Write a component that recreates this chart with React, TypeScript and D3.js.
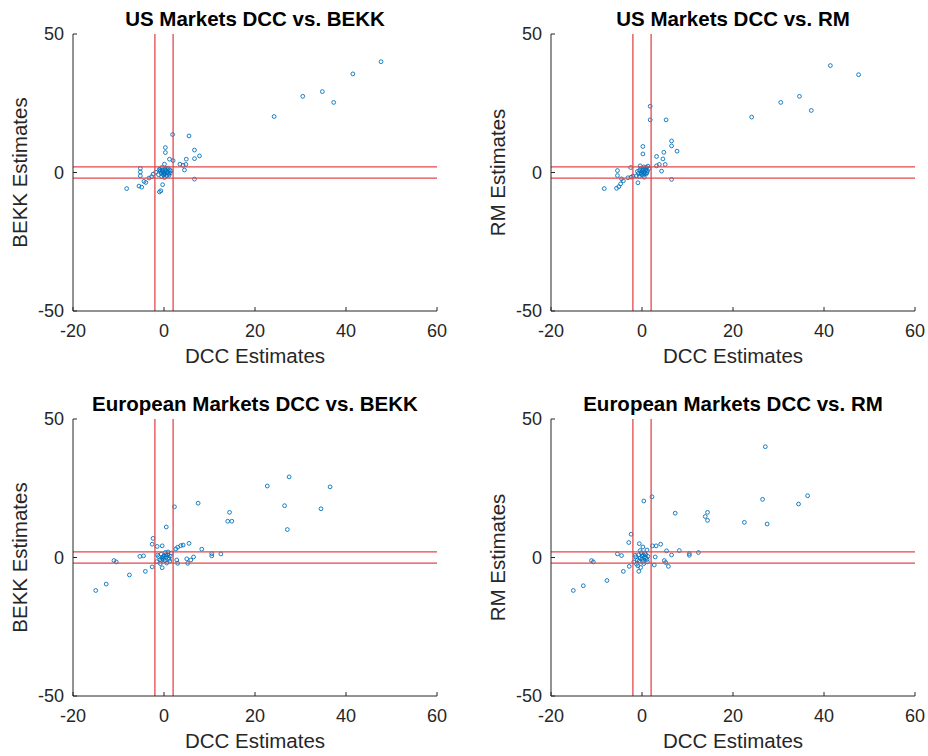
import React from "react";
import * as d3 from "d3";

// DCC estimates (x) against the alternative model estimates (y), one list per panel
const usBekk: [number, number][] = [
  [47.7, 40.0], [41.5, 35.6], [34.8, 29.2], [30.5, 27.5], [37.3, 25.3], [24.2, 20.2],
  [1.9, 13.7], [5.5, 13.2], [6.7, 8.1], [7.8, 6.0], [6.7, 5.0], [0.3, 9.0], [0.3, 7.2],
  [1.2, 4.8], [2.0, 4.3], [4.9, 4.8], [3.5, 3.0], [4.2, 2.6], [4.8, 2.9], [4.5, 0.9],
  [6.7, -2.4], [-5.2, 1.5], [-5.2, 0.2], [-5.2, -1.2], [-8.2, -5.8], [-5.5, -4.9],
  [-4.9, -5.3], [-4.4, -3.2], [-4.0, -3.6], [-3.3, -2.0], [-2.7, -1.5], [-2.4, -0.6],
  [-1.8, 0.1], [-1.0, 1.2], [-0.5, 1.8], [-0.3, -4.4], [-1.0, -7.0], [-0.7, -6.6], [0.1, 3.0],
  [-1.2, -0.8], [-0.8, 0.5], [-0.5, -1.5], [-0.3, 0.2], [0.0, 0.0], [0.2, -0.5], [0.4, 0.8],
  [0.6, -1.2], [0.8, 0.3], [1.0, -0.4], [1.2, 1.0], [1.4, -0.2], [0.5, 1.5], [-0.1, -0.9],
  [0.3, 0.4], [-0.6, -0.3], [0.9, 1.6], [1.5, 0.6], [0.1, -1.8], [-0.9, 1.0], [0.7, -0.1],
  [0.2, 1.1], [-0.4, 0.9], [1.1, -1.0], [0.0, -0.3],
];

const usRm: [number, number][] = [
  [41.4, 38.6], [47.6, 35.3], [34.6, 27.5], [30.5, 25.3], [37.2, 22.4], [24.1, 20.0],
  [1.8, 23.9], [1.8, 19.0], [5.3, 19.0], [6.5, 11.4], [6.5, 9.6], [7.7, 7.7], [4.8, 7.3],
  [4.6, 4.9], [3.2, 5.8], [5.1, 2.9], [3.8, 2.9], [3.2, 2.4], [4.3, 0.5], [6.5, -2.5],
  [0.2, 9.4], [0.2, 6.7], [-2.5, 1.8], [-5.4, 0.7], [-5.4, -1.1], [-8.3, -5.8], [-5.6, -5.7],
  [-5.1, -5.1], [-4.7, -4.1], [-4.1, -3.0], [-4.5, -2.3], [-3.1, -1.9], [-2.4, -1.7],
  [-2.0, -1.3], [-0.9, -3.7], [0.5, -1.7],
  [-1.2, -1.2], [-0.8, -0.3], [-0.5, 0.8], [-0.2, -0.6], [0.0, 0.3], [0.3, 1.2], [0.5, -0.2],
  [0.8, 0.9], [1.0, 1.8], [1.3, 2.3], [-0.3, 1.5], [0.6, 0.1], [0.2, -1.0], [-1.0, 0.4],
  [0.9, -0.5], [1.2, 0.6], [0.4, 2.0], [-0.6, -1.4], [1.5, 1.4], [0.1, 0.7], [-0.4, 2.4],
  [0.7, 1.5], [1.1, -0.1], [-0.1, -0.2],
];

const euBekk: [number, number][] = [
  [27.5, 29.1], [22.7, 25.8], [36.5, 25.5], [26.5, 18.7], [34.5, 17.6], [27.1, 10.1],
  [14.4, 16.3], [14.0, 13.1], [14.9, 13.1], [7.5, 19.6], [2.3, 18.3], [0.5, 11.0],
  [-2.4, 6.9], [-2.6, 4.8], [-1.5, 4.0], [-0.4, 4.2], [5.5, 5.1], [4.2, 4.5], [3.7, 4.3],
  [3.0, 3.7], [2.6, 3.1], [8.3, 3.0], [10.5, 1.4], [10.5, 0.6], [12.5, 1.3], [-5.3, 0.4],
  [-4.5, 0.6], [-11.0, -1.1], [-10.5, -1.6], [-7.6, -6.3], [-4.1, -5.0], [-2.6, -3.4],
  [-12.7, -9.6], [-15.0, -11.9], [-0.4, -3.7], [2.8, -0.9], [3.0, -2.1], [5.2, -2.1],
  [5.0, -0.5], [5.9, -0.9], [6.5, 0.2],
  [-1.6, -1.5], [-1.2, 0.3], [-0.9, -0.8], [-0.6, 1.2], [-0.3, -0.2], [0.0, 0.6], [0.2, -1.2],
  [0.5, 0.2], [0.8, 1.0], [1.1, -0.6], [1.4, 0.5], [1.6, 1.6], [0.3, 1.8], [-0.8, -2.2],
  [0.6, -2.0], [-0.1, -0.7], [1.0, 0.0], [-1.4, 0.9], [0.4, 0.9], [-0.5, -1.0], [1.3, -1.3],
  [0.9, 2.0], [-0.2, 0.3],
];

const euRm: [number, number][] = [
  [27.1, 40.0], [36.4, 22.3], [26.5, 21.0], [34.4, 19.3], [2.2, 21.9], [0.4, 20.4],
  [7.3, 16.0], [14.4, 16.3], [13.9, 14.8], [14.4, 13.4], [22.5, 12.7], [27.5, 12.1],
  [-2.4, 8.4], [-2.9, 5.4], [-0.6, 5.0], [0.2, 3.8], [-0.4, 2.5], [1.1, 2.7], [2.3, 4.2],
  [3.1, 4.2], [4.1, 4.8], [5.4, 2.4], [8.2, 2.5], [10.4, 1.4], [10.4, 0.8], [12.4, 1.8],
  [6.5, 0.9], [-5.4, 1.3], [-4.5, 0.7], [-11.1, -1.1], [-10.7, -1.6], [-7.7, -8.3],
  [-12.9, -10.2], [-15.1, -11.9], [-4.1, -5.0], [-2.8, -3.2], [-0.7, -5.0], [-0.3, -3.6],
  [2.7, -2.7], [4.9, -1.1], [5.2, -1.8], [5.8, -3.2], [2.9, 0.2],
  [-1.8, -1.6], [-1.4, 0.2], [-1.0, -0.9], [-0.7, 1.0], [-0.4, -0.3], [0.0, 0.5], [0.2, -1.4],
  [0.5, 0.1], [0.8, 1.1], [1.1, -0.7], [1.3, 0.4], [-0.2, 1.7], [-1.2, -2.4], [0.4, -2.2],
  [0.0, -0.6], [0.9, -0.1], [-1.5, 0.8], [0.3, 0.9], [-0.6, -1.2], [1.2, -1.6], [-0.9, -3.0],
  [0.6, 1.6],
];

const titles = [
  "US Markets DCC vs. BEKK",
  "US Markets DCC vs. RM",
  "European Markets DCC vs. BEKK",
  "European Markets DCC vs. RM",
];
const yLabels = ["BEKK Estimates", "RM Estimates", "BEKK Estimates", "RM Estimates"];
const xLabel = "DCC Estimates";
const xTicks = [-20, 0, 20, 40, 60];
const yTicks = [-50, 0, 50];
const bandLimits = [-2, 2];
const panelData = [usBekk, usRm, euBekk, euRm];

const W = 928;
const H = 756;
const FONT = "'Liberation Sans', Arial, Helvetica, sans-serif";
const AXIS = "#262626";
const BLUE = "#0072BD";
const RED = "#e2474b";

const lefts = [73, 551];
const tops = [34, 419];
const plotW = 364;
const plotH = 277;

function Panel({ idx }: { idx: number }) {
  const left = lefts[idx % 2];
  const top = tops[Math.floor(idx / 2)];
  const x = d3.scaleLinear().domain([-20, 60]).range([left, left + plotW]);
  const y = d3.scaleLinear().domain([-50, 50]).range([top + plotH, top]);
  const bottom = top + plotH;
  const right = left + plotW;
  const data = panelData[idx];

  return (
    <g>
      {/* scatter markers */}
      {data.map((d, i) => (
        <circle
          key={i}
          cx={x(d[0])}
          cy={y(d[1])}
          r={1.9}
          fill="none"
          stroke={BLUE}
          strokeWidth={0.9}
        />
      ))}
      {/* +/-2 reference band */}
      {bandLimits.map((v) => (
        <g key={"b" + v}>
          <line x1={x(v)} x2={x(v)} y1={top} y2={bottom} stroke={RED} strokeWidth={1.3} />
          <line x1={left} x2={right} y1={y(v)} y2={y(v)} stroke={RED} strokeWidth={1.3} />
        </g>
      ))}
      {/* axes */}
      <line x1={left} x2={right} y1={bottom} y2={bottom} stroke={AXIS} strokeWidth={1} />
      <line x1={left} x2={left} y1={top} y2={bottom} stroke={AXIS} strokeWidth={1} />
      {xTicks.map((t) => (
        <g key={"x" + t}>
          <line x1={x(t)} x2={x(t)} y1={bottom} y2={bottom - 4} stroke={AXIS} strokeWidth={1} />
          <text
            x={x(t)}
            y={bottom + 26}
            textAnchor="middle"
            fontFamily={FONT}
            fontSize={18}
            fill={AXIS}
          >
            {t}
          </text>
        </g>
      ))}
      {yTicks.map((t) => (
        <g key={"y" + t}>
          <line x1={left} x2={left + 4} y1={y(t)} y2={y(t)} stroke={AXIS} strokeWidth={1} />
          <text
            x={left - 9}
            y={y(t)}
            dy="0.35em"
            textAnchor="end"
            fontFamily={FONT}
            fontSize={18}
            fill={AXIS}
          >
            {t}
          </text>
        </g>
      ))}
      <text
        x={(left + right) / 2}
        y={bottom + 52}
        textAnchor="middle"
        fontFamily={FONT}
        fontSize={20.5}
        fill={AXIS}
      >
        {xLabel}
      </text>
      <text
        transform={`translate(${left - 46},${(top + bottom) / 2}) rotate(-90)`}
        textAnchor="middle"
        fontFamily={FONT}
        fontSize={20.5}
        fill={AXIS}
      >
        {yLabels[idx]}
      </text>
      <text
        x={(left + right) / 2}
        y={top - 8}
        textAnchor="middle"
        fontFamily={FONT}
        fontSize={20.5}
        fontWeight="bold"
        fill="#000"
      >
        {titles[idx]}
      </text>
    </g>
  );
}

export default function App() {
  return (
    <svg
      width={W}
      height={H}
      style={{ position: "absolute", left: 0, top: 0, background: "#fff" }}
    >
      <rect width={W} height={H} fill="#fff" />
      {titles.map((_, i) => (
        <Panel key={i} idx={i} />
      ))}
    </svg>
  );
}
